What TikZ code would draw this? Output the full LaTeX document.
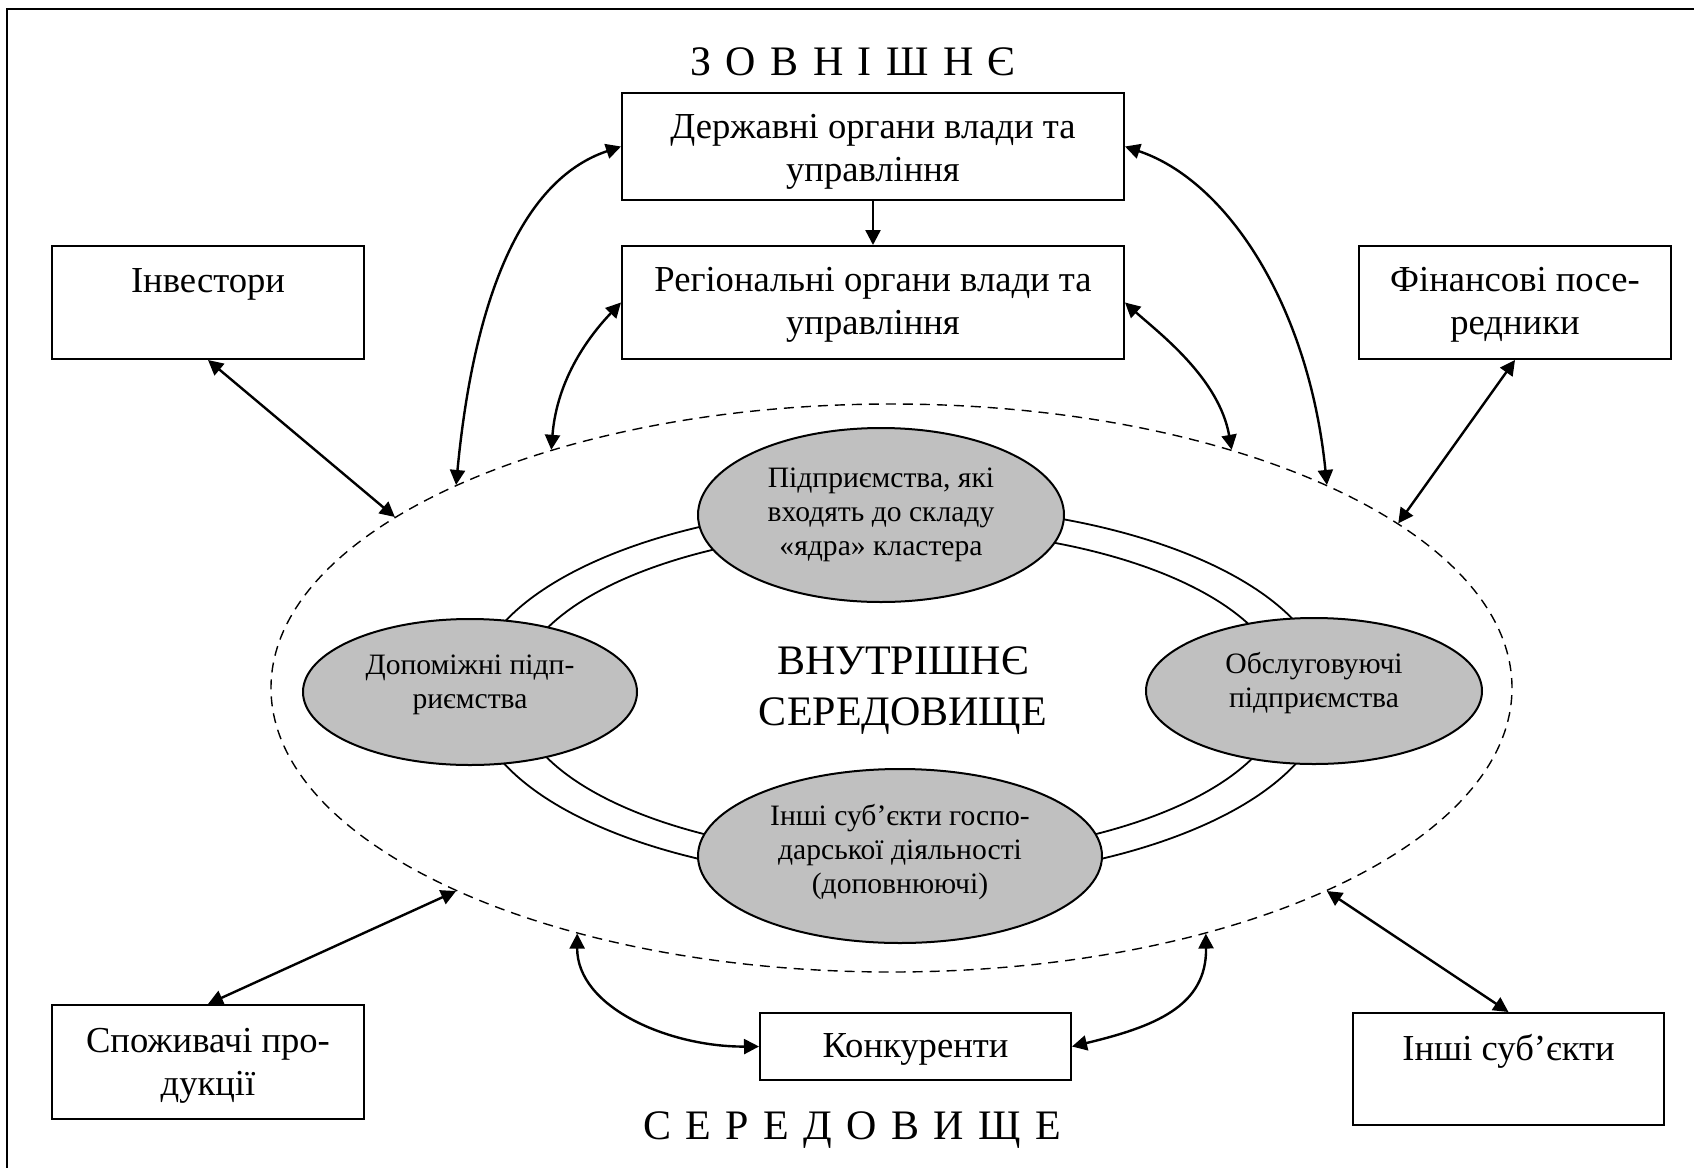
\documentclass[tikz,border=0pt]{standalone}
\usepackage{fontspec}
\setmainfont{Liberation Serif}
\usetikzlibrary{arrows.meta,shapes.geometric}
\definecolor{ellgray}{RGB}{192,192,192}
\newcommand{\myspacedfont}{\fontsize{21}{25}\selectfont\spaceskip=7.2pt\relax}
\begin{document}
\begin{tikzpicture}[x=0.5pt,y=-0.5pt,
  box/.style={draw,line width=1pt,rectangle,inner sep=0pt,align=center,font=\fontsize{18.3}{21.5}\selectfont},
  gell/.style={draw,line width=1pt,ellipse,fill=ellgray,inner sep=0pt},
  etxt/.style={align=center,font=\fontsize{14.8}{17}\selectfont,inner sep=0pt},
  bigtxt/.style={align=center,font=\fontsize{21}{25.5}\selectfont,inner sep=0pt},
  spaced/.style={font=\myspacedfont,inner sep=0pt},
  dbl/.style={line width=1.2pt,{Triangle[length=7.5pt,width=7.5pt]}-{Triangle[length=7.5pt,width=7.5pt]}},
  sgl/.style={line width=1.2pt,-{Triangle[length=7.5pt,width=7.5pt]}},
  ringline/.style={line width=0.9pt},
  envstyle/.style={draw,dash pattern=on 5pt off 3.5pt,line width=0.7pt,ellipse,inner sep=0pt}
]
\useasboundingbox (0,0) rectangle (1694,1168);
\draw[line width=1pt] (7,1168) -- (7,9) -- (1694,9);

% outer dashed environment
\node[envstyle,minimum width=620.5pt,minimum height=284pt] (env) at (891.5,688) {};

% double ring
\draw[ringline] (900,693) ellipse [x radius=213.5pt, y radius=94pt];
\draw[ringline] (900,693) ellipse [x radius=192pt, y radius=82pt];

% grey ellipses
\node[gell,minimum width=183pt,minimum height=87pt] (core) at (881,515) {};
\node[gell,minimum width=167pt,minimum height=73pt] (aux) at (470,692) {};
\node[gell,minimum width=168pt,minimum height=73pt] (serv) at (1314,691) {};
\node[gell,minimum width=202pt,minimum height=87pt] (other) at (900,856) {};

\node[etxt] (coret) at (881,515) {Підприємства, які\\входять до складу\\«ядра» кластера};
\node[etxt] (auxt) at (470,685) {Допоміжні підп-\\риємства};
\node[etxt] (servt) at (1314,683) {Обслуговуючі\\підприємства};
\node[etxt] (othert) at (900,852) {Інші суб’єкти госпо-\\дарської діяльності\\(доповнюючі)};

\node[bigtxt] (inner) at (903,690.5) {ВНУТРІШНЄ\\СЕРЕДОВИЩЕ};

% titles
\node[spaced] (ttop) at (853,62) {З О В Н І Ш Н Є};
\node[spaced] (tbot) at (852,1130) {С Е Р Е Д О В И Щ Е};

% boxes
\node[box,minimum width=251pt,minimum height=53.5pt] (gov) at (873,146.5) {\rule{0pt}{17pt}Державні органи влади та\\управління};
\node[box,minimum width=251pt,minimum height=56.5pt] (reg) at (873,302.5) {\rule{0pt}{14pt}Регіональні органи влади та\\управління};
\node[box,minimum width=156pt,minimum height=56.5pt] (inv) at (208,302.5) {Інвестори\\\mbox{}};
\node[box,minimum width=156pt,minimum height=56.5pt] (fin) at (1515,302.5) {\rule{0pt}{14pt}Фінансові посе-\\редники};
\node[box,minimum width=156pt,minimum height=57pt] (spo) at (208,1062) {\rule{0pt}{16pt}Споживачі про-\\дукції};
\node[box,minimum width=155.5pt,minimum height=33.5pt] (kon) at (915.5,1046.5) {\rule{0pt}{15pt}Конкуренти};
\node[box,minimum width=155.5pt,minimum height=56pt] (ins) at (1508.5,1069) {Інші суб’єкти\\\mbox{}};

% connectors
\draw[sgl] (gov.south) -- (reg.north);
\draw[dbl] (env.155) .. controls (473,307) and (518,181) .. (gov.west);
\draw[dbl] (env.25) .. controls (1309,307) and (1228,181) .. (gov.east);
\draw[dbl] (env.145) .. controls (557,378) and (590,335) .. (reg.west);
\draw[dbl] (env.35) .. controls (1219,378) and (1159,333) .. (reg.east);
\draw[dbl] (inv.south) -- (env.161);
\draw[dbl] (fin.south) -- (env.18);
\draw[dbl] (spo.north) -- (env.205);
\draw[dbl] (ins.north) -- (env.335);
\draw[dbl] (env.218) .. controls (577,1008) and (670,1047) .. (kon.west);
\draw[dbl] (env.322) .. controls (1207,1007) and (1153,1027) .. (kon.east);
\end{tikzpicture}
\end{document}
